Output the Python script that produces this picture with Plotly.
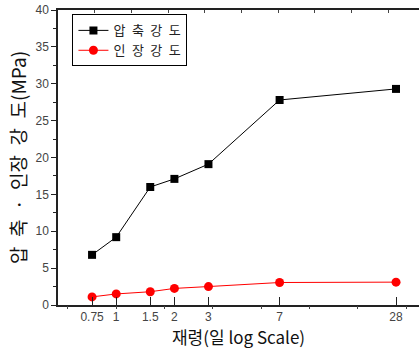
import plotly.graph_objects as go
import numpy as np

age_days = [0.75, 1, 1.5, 2, 3, 7, 28]
compressive = [6.8, 9.2, 16.0, 17.1, 19.1, 27.8, 29.3]
tensile = [1.1, 1.5, 1.8, 2.25, 2.5, 3.05, 3.1]
x_ticklabels = ["0.75", "1", "1.5", "2", "3", "7", "28"]
y_ticks = [0, 5, 10, 15, 20, 25, 30, 35, 40]

xr = [np.log10(0.5), 1.566]
sp = "\u2002"

fig = go.Figure()
fig.add_trace(go.Scatter(x=age_days, y=compressive, mode="lines+markers",
                         name=sp.join("압축강도"),
                         line=dict(color="black", width=1),
                         marker=dict(symbol="square", size=8, color="black")))
fig.add_trace(go.Scatter(x=age_days, y=tensile, mode="lines+markers",
                         name=sp.join("인장강도"),
                         line=dict(color="#ff0000", width=1),
                         marker=dict(symbol="circle", size=9, color="#ff0000")))

tickfont = dict(family="Liberation Sans", size=12, color="#444")
fig.update_layout(
    width=419, height=354,
    margin=dict(l=58, r=0, t=10, b=49),
    paper_bgcolor="white", plot_bgcolor="white",
    showlegend=True,
    legend=dict(x=0.04, y=0.985, xanchor="left", yanchor="top",
                bordercolor="black", borderwidth=1, bgcolor="white",
                font=dict(family="Noto Sans CJK KR", size=13, color="#222"),
                tracegroupgap=0, itemwidth=30),
    xaxis=dict(type="log", range=xr, tickvals=age_days, ticktext=x_ticklabels,
               ticks="inside", ticklen=8, tickcolor="#222", tickfont=tickfont,
               showline=True, linecolor="#222", linewidth=1.5, mirror=True,
               showgrid=False, zeroline=False, automargin=False,
               title=dict(text="재령(일 log Scale)", standoff=4,
                          font=dict(family="Noto Sans CJK KR", size=17, color="#111"))),
    yaxis=dict(range=[0, 40], tickvals=y_ticks, ticks="outside", ticklen=5,
               tickcolor="#222", tickfont=tickfont,
               minor=dict(dtick=2.5, ticks="outside", ticklen=3, tickcolor="#222"),
               showline=True, linecolor="#222", linewidth=1.5, mirror=False,
               showgrid=False, zeroline=False, automargin=False,
               title=dict(text="압" + sp + "축" + sp + "·" + sp + "인장" + sp + "강" + sp + "도(MPa)",
                          standoff=4,
                          font=dict(family="Noto Sans CJK KR", size=19, color="#111"))),
    xaxis2=dict(overlaying="x", side="top", anchor="y", range=[0, (419 - 58) / 36.7],
                dtick=1, ticks="inside", ticklen=3, tickcolor="#444", automargin=False,
                showticklabels=False, showgrid=False, zeroline=False, showline=False),
    xaxis3=dict(overlaying="x", side="bottom", anchor="y", type="log", range=xr,
                tickvals=[10 ** (k / 4) for k in range(-1, 7)], automargin=False,
                ticks="outside", ticklen=3, tickcolor="#444",
                showticklabels=False, showgrid=False, zeroline=False, showline=False),
)
fig.add_trace(go.Scatter(x=[1], y=[None], xaxis="x2", showlegend=False, hoverinfo="skip"))
fig.add_trace(go.Scatter(x=[1], y=[None], xaxis="x3", showlegend=False, hoverinfo="skip"))

fig.write_html("out.html", config={"displayModeBar": False},
               post_script="document.body.style.margin='0';document.body.style.padding='0';")
